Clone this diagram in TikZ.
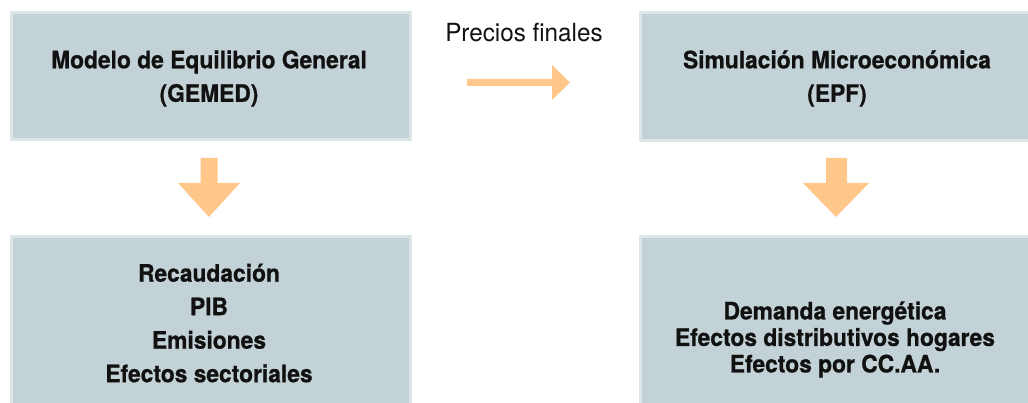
\documentclass[tikz,border=0pt]{standalone}
\usepackage{fontspec}
\newfontfamily\cnb{TeX Gyre Heros}[FakeStretch=0.95, FakeBold=0.8, UprightFont=*-Bold]
\newfontfamily\cnr{TeX Gyre Heros}[FakeStretch=0.97]
\definecolor{boxfill}{RGB}{195,210,214}
\definecolor{boxedge}{RGB}{222,231,232}
\definecolor{arrowc}{RGB}{255,199,138}
\definecolor{txt}{RGB}{17,17,17}
\tikzset{
  panel/.style={draw=boxedge, line width=3pt, fill=boxfill, inner sep=0pt, anchor=north west},
  paneltext/.style={align=center, text=txt, inner sep=0pt, font={\cnb\fontsize{24}{33.5}\selectfont}},
  paneltextb/.style={paneltext, font={\cnb\fontsize{24}{26.5}\selectfont}},
  blockarrow/.style={fill=arrowc, draw=none}
}
\begin{document}
\begin{tikzpicture}[x=1pt,y=-1pt]
\useasboundingbox (0,0) rectangle (1028,403);
\clip (0,0) rectangle (1028,403);
% panels
\node[panel, minimum width=399pt, minimum height=127pt] (tl) at (9.5,11.5) {};
\node[panel, minimum width=397pt, minimum height=128pt] (tr) at (638.5,11.5) {};
\node[panel, minimum width=399pt, minimum height=190pt] (bl) at (9.5,235.5) {};
\node[panel, minimum width=397pt, minimum height=190pt] (br) at (638.5,235.5) {};
% texts
\node[paneltext] (tlt) at (209,78.5) {Modelo de Equilibrio General\\(GEMED)};
\node[paneltext] (trt) at (837,78.5) {Simulación Microeconómica\\(EPF)};
\node[paneltext] (blt) at (209,323) {Recaudación\\PIB\\Emisiones\\Efectos sectoriales};
\node[paneltextb] (brt) at (835,339.5) {Demanda energética\\Efectos distributivos hogares\\Efectos por CC.AA.};
\node[anchor=base, inner sep=0pt, text=txt, font={\cnr\fontsize{25}{28}\selectfont}] (pf) at (524,42) {Precios finales};
% horizontal arrow
\fill[blockarrow] (467,79) -- (552,79) -- (552,65) -- (570,82.5) -- (552,100) -- (552,86) -- (467,86) -- cycle;
% down arrows
\fill[blockarrow] (200.5,158) -- (217.5,158) -- (217.5,183) -- (240,183) -- (209,217) -- (178,183) -- (200.5,183) -- cycle;
\fill[blockarrow] (826,158) -- (847,158) -- (847,183) -- (869,183) -- (836,217) -- (803,183) -- (826,183) -- cycle;
\end{tikzpicture}
\end{document}
